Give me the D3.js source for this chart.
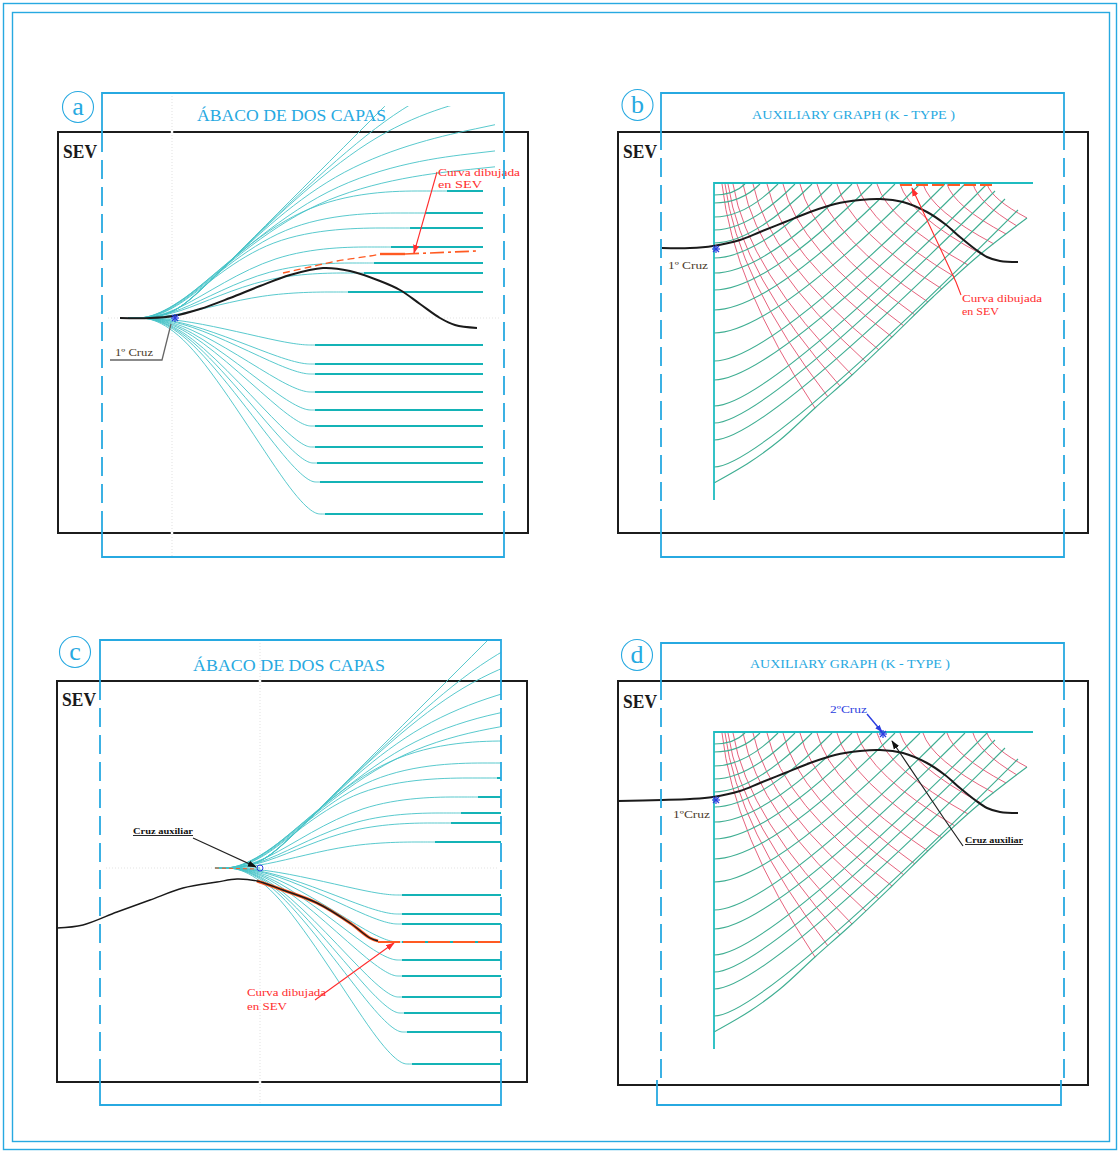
<!DOCTYPE html>
<html><head><meta charset="utf-8">
<script src="https://cdn.jsdelivr.net/npm/d3@7"></script>
<style>body{margin:0;background:#fff}svg{display:block}</style>
</head><body>
<svg id="c" width="1120" height="1153"></svg>
<script>
// ================= DATA =================
const panelLetters = ["a","b","c","d"];
const panelTitles = ["ÁBACO DE DOS CAPAS","AUXILIARY GRAPH (K - TYPE )","ÁBACO DE DOS CAPAS","AUXILIARY GRAPH (K - TYPE )"];

// Two-layer master curves (sheet units from the cross, y up)
const abacoStartX = -45, abacoEndX = 310;
const abacoUpLevel  = [26, 45, 55, 71, 90, 105, 127];
const abacoUpCorner = [90, 92, 95, 100, 92, 106, 125];
const abacoUpFlat   = [175, 191, 201, 218, 237, 252, 274];
const abacoUpOpen = [
  [[135,132],[330,152]],
  [[150,147],[330,168]],
  [[40,40],[165,160],[330,195]],
  [[40,40],[200,196],[330,225]],
  [[40,40],[225,222],[330,250]],
  [[40,40],[330,330]]
];
const abacoDownLevel  = [-27,-46,-56,-74,-92,-108,-129,-145,-164,-196];
const abacoDownCorner = [118,119,120,120,121,122,123,124,126,128];
const abacoDownFlat   = [142,142,142,142,142,142,142,144,147,152];

// Auxiliary graph (K-type), units from the grid corner, y down
const gridTealStart = [11,19,33,46,59,74,89,106,126,149,177,196,222,239,256,283];
const gridTealEnd = [[31,0],[46,0],[64,0],[81,0],[98,0],[118,0],[138,0],[158,0],[181,0],[206,0],[231,0],[251,0],[273,0],[281,7],[291,15],[304,26]];
const gridBottom = [[0,299],[36,278],[66,256],[101,224],[138,191],[178,153],[219,113],[263,73],[313,34]];
const gridRedStart = [8,11,14,19,29,39,53,69,86,103,123,143,163,186,209,233,259,273];
const gridRedEnd = [[101,224],[114,213],[126,202],[138,191],[152,178],[165,166],[178,153],[190,142],[201,131],[214,118],[228,105],[241,93],[254,81],[267,70],[280,60],[292,50],[303,42],[313,34]];

// SEV field curves (units from the SEV box top-left corner, y down)
const sevA = [[62,186],[92,186],[115,184],[142,177],[172,166],[202,154],[232,143],[265,136],[292,139],[322,149],[342,158],[362,172],[382,186],[397,193],[419,196]];
const sevB = [[44,116],[72,116],[95,114],[122,108],[142,100],[167,90],[192,80],[217,72],[242,68],[262,67],[285,70],[309,80],[327,92],[342,105],[357,117],[369,125],[382,129],[400,130]];
const sevC = [[0,247],[26,244],[60,231],[93,219],[126,207],[160,201],[180,198],[200,200],[226,209],[260,222],[293,242],[313,257],[321,260]];
const sevD = [[0,120],[44,119],[72,118],[95,116],[122,110],[142,102],[167,92],[192,82],[217,74],[242,70],[262,69],[285,72],[309,82],[327,94],[342,107],[357,119],[369,127],[382,131],[400,132]];
// "Curva dibujada en SEV" traces
const traceA = [[225,141],[252,135],[279,129],[312,124],[322,122]];
const traceAFlat = [[322,122],[347,122],[419,119]];
const traceC = [[200,200],[226,209],[260,222],[293,242],[313,257],[321,260]];
const traceCFlat = [[321,261],[443,261]];

// ================= LAYOUT =================
const SERIF = '"Liberation Serif","DejaVu Serif",serif';
const BLUE = "#27a9e1", TEAL = "#46c3c7", TEALF = "#14b3b6", GT = "#3fae92", GAX = "#1fbcc0", GR = "#e2526f", ORG = "#ff5a22", RED = "#ff2d2d";
const L = {
  a:{box:[58,132,528,533], br:{x0:102,x1:504,y0:93,y1:557,bx0:102,bx1:504,ts:152,bs:520}, circ:[78,107], title:[291.5,121,189,17.5], sev:[63,158], cross:[173,318], clip:[60,106,495,545], guide:172},
  b:{box:[618,132,1088,533], br:{x0:661,x1:1064,y0:93,y1:557,bx0:661,bx1:1064,ts:150,bs:520}, circ:[637.5,105], title:[853.5,119,203,12.5], sev:[623,158], grid:[714,184]},
  c:{box:[57,681,527,1082], br:{x0:100,x1:501,y0:640,y1:1105,bx0:100,bx1:501,ts:700,bs:1063}, circ:[75,652], title:[289,671,192,17.5], sev:[62,706], cross:[260,868], clip:[58,640,501,1080], guide:260},
  d:{box:[618,681,1088,1085], br:{x0:661,x1:1064,y0:643,y1:1105,bx0:657,bx1:1061,ts:700,bs:1080}, circ:[637,655], title:[850,668,200,12.5], sev:[623,708], grid:[714,733]}
};

const svg = d3.select("#c");
const defs = svg.append("defs");
function marker(id, color, size){
  defs.append("marker").attr("id",id).attr("viewBox","0 0 10 10").attr("refX",9).attr("refY",5)
    .attr("markerWidth",size).attr("markerHeight",size).attr("orient","auto").attr("markerUnits","userSpaceOnUse")
    .append("path").attr("d","M0,1.5L10,5L0,8.5z").attr("fill",color);
}
marker("mR", RED, 9); marker("mK", "#111", 9); marker("mB", "#2b3ee0", 8);

// outer frame
svg.append("rect").attr("x",3.5).attr("y",3.5).attr("width",1113).attr("height",1146).attr("fill","none").attr("stroke",BLUE).attr("stroke-width",1.4);
svg.append("rect").attr("x",12.5).attr("y",12.5).attr("width",1097).attr("height",1129).attr("fill","none").attr("stroke",BLUE).attr("stroke-width",1.4);

function boxScale(p){ const b=L[p].box;
  return {x:d3.scaleLinear().domain([0,100]).range([b[0],b[0]+100]), y:d3.scaleLinear().domain([0,100]).range([b[1],b[1]+100])}; }

function drawBox(p){ const b=L[p].box;
  svg.append("rect").attr("x",b[0]).attr("y",b[1]).attr("width",b[2]-b[0]).attr("height",b[3]-b[1])
    .attr("fill","none").attr("stroke","#1c1c1c").attr("stroke-width",2);
}
function drawGuides(p){ const c=L[p]; if(c.guide===undefined) return;
  const br=c.br;
  // white gaps through the frame lines
  [[c.box[1]],[c.box[3]],[br.y0],[br.y1]].forEach(v=>{
    svg.append("line").attr("x1",c.guide).attr("x2",c.guide).attr("y1",v[0]-3).attr("y2",v[0]+3).attr("stroke","#fff").attr("stroke-width",2.5);
  });
  svg.append("line").attr("x1",c.guide).attr("x2",c.guide).attr("y1",br.y0).attr("y2",br.y1)
    .attr("stroke","#d9d9d9").attr("stroke-width",0.8).attr("stroke-dasharray","1,2");
  svg.append("line").attr("x1",br.x0+6).attr("x2",br.x1-4).attr("y1",c.cross[1]).attr("y2",c.cross[1])
    .attr("stroke","#dcdcdc").attr("stroke-width",0.8).attr("stroke-dasharray","1,2");
}
function drawBracket(p){ const b=L[p].br; const g=svg.append("g").attr("fill","none").attr("stroke",BLUE).attr("stroke-width",1.8);
  g.append("path").attr("d",`M${b.x0},${b.ts}V${b.y0}H${b.x1}V${b.ts}`);
  g.append("path").attr("d",`M${b.bx0},${b.bs}V${b.y1}H${b.bx1}V${b.bs}`);
  const sideEnd = p==="d" ? 1086 : b.bs;
  [b.x0,b.x1].forEach(x=>g.append("line").attr("x1",x).attr("x2",x).attr("y1",b.ts+8).attr("y2",sideEnd).attr("stroke-dasharray","19,8"));
}
function drawLabels(p, i){ const c=L[p];
  svg.append("circle").attr("cx",c.circ[0]).attr("cy",c.circ[1]).attr("r",15.5).attr("fill","none").attr("stroke",BLUE).attr("stroke-width",1.1);
  svg.append("text").attr("x",c.circ[0]).attr("y",c.circ[1]+8).attr("text-anchor","middle").attr("font-family",SERIF)
    .attr("font-size",26).attr("fill",BLUE).text(panelLetters[i]);
  svg.append("text").attr("x",c.title[0]).attr("y",c.title[1]).attr("text-anchor","middle").attr("font-family",SERIF)
    .attr("font-size",c.title[3]).attr("fill",BLUE).attr("textLength",c.title[2]).attr("lengthAdjust","spacingAndGlyphs").text(panelTitles[i]);
  svg.append("text").attr("x",c.sev[0]).attr("y",c.sev[1]).attr("font-family",SERIF).attr("font-weight","bold")
    .attr("font-size",18).attr("fill","#1a1a1a").attr("textLength",34).attr("lengthAdjust","spacingAndGlyphs").text("SEV");
}

function drawAbaco(p){ const c=L[p]; const ox=c.cross[0], oy=c.cross[1];
  const x=d3.scaleLinear().domain([0,100]).range([ox,ox+100]);
  const y=d3.scaleLinear().domain([0,100]).range([oy,oy-100]);
  const spl=d3.line().x(d=>x(d[0])).y(d=>y(d[1])).curve(d3.curveBasis);
  const lin=d3.line().x(d=>x(d[0])).y(d=>y(d[1]));
  const cid="clip"+p;
  defs.append("clipPath").attr("id",cid).append("rect").attr("x",c.clip[0]).attr("y",c.clip[1]).attr("width",c.clip[2]-c.clip[0]).attr("height",c.clip[3]-c.clip[1]);
  const g=svg.append("g").attr("clip-path",`url(#${cid})`).attr("fill","none");
  const A=[abacoStartX,0];
  abacoUpLevel.forEach((lv,i)=>{
    g.append("path").attr("d",spl([A,A,[0,0],[abacoUpCorner[i],lv],[abacoUpFlat[i],lv],[abacoUpFlat[i],lv]])).attr("stroke",TEAL).attr("stroke-width",0.9);
    g.append("path").attr("d",lin([[abacoUpFlat[i],lv],[abacoEndX,lv]])).attr("stroke",TEALF).attr("stroke-width",1.8);
  });
  abacoUpOpen.forEach(pts=>{
    g.append("path").attr("d",spl([A,A,[0,0],...pts])).attr("stroke",TEAL).attr("stroke-width",0.9);
  });
  abacoDownLevel.forEach((lv,i)=>{
    g.append("path").attr("d",spl([A,A,[10,0],[abacoDownCorner[i],lv],[abacoDownFlat[i],lv],[abacoDownFlat[i],lv]])).attr("stroke",TEAL).attr("stroke-width",0.9);
    g.append("path").attr("d",lin([[abacoDownFlat[i],lv],[abacoEndX,lv]])).attr("stroke",TEALF).attr("stroke-width",1.8);
  });
  g.append("path").attr("d",lin([A,[0,0]])).attr("stroke",TEAL).attr("stroke-width",1.2);
}

function drawGrid(p){ const c=L[p]; const ox=c.grid[0], oy=c.grid[1];
  const x=d3.scaleLinear().domain([0,100]).range([ox,ox+100]);
  const y=d3.scaleLinear().domain([0,100]).range([oy,oy+100]);
  const g=svg.append("g").attr("fill","none");
  gridRedStart.forEach((xs,i)=>{ const e=gridRedEnd[i];
    const q=[xs+0.12*(e[0]-xs), 0.45*e[1]];
    const pa=d3.path(); pa.moveTo(x(xs),y(0)); pa.quadraticCurveTo(x(q[0]),y(q[1]),x(e[0]),y(e[1]));
    g.append("path").attr("d",pa.toString()).attr("stroke",GR).attr("stroke-width",1).attr("stroke-opacity",0.9);
  });
  gridTealStart.forEach((ys,i)=>{ const e=gridTealEnd[i];
    const q=[e[0]-(ys-e[1]), ys];
    const pa=d3.path(); pa.moveTo(x(0),y(ys)); pa.quadraticCurveTo(x(q[0]),y(q[1]),x(e[0]),y(e[1]));
    g.append("path").attr("d",pa.toString()).attr("stroke",GT).attr("stroke-width",1.1);
  });
  g.append("path").attr("d",d3.line().x(d=>x(d[0])).y(d=>y(d[1])).curve(d3.curveCatmullRom)(gridBottom)).attr("stroke",GT).attr("stroke-width",1.1);
  g.append("path").attr("d",d3.line().x(d=>x(d[0])).y(d=>y(d[1]))([[0,316],[0,-1],[319,-1]])).attr("stroke",GAX).attr("stroke-width",1.8);
}

function crossMark(xp,yp,color){
  const g=svg.append("g").attr("stroke",color).attr("stroke-width",1.2);
  g.append("line").attr("x1",xp-4).attr("x2",xp+4).attr("y1",yp).attr("y2",yp);
  g.append("line").attr("x1",xp).attr("x2",xp).attr("y1",yp-4).attr("y2",yp+4);
  g.append("line").attr("x1",xp-3).attr("x2",xp+3).attr("y1",yp-3).attr("y2",yp+3);
  g.append("line").attr("x1",xp-3).attr("x2",xp+3).attr("y1",yp+3).attr("y2",yp-3);
}
function txt(xp,yp,s,o){ const t=svg.append("text").attr("x",xp).attr("y",yp).attr("font-family",SERIF)
    .attr("font-size",o.size||10.5).attr("fill",o.fill||"#333").text(s);
  if(o.w) t.attr("textLength",o.w).attr("lengthAdjust","spacingAndGlyphs");
  if(o.bold) t.attr("font-weight","bold");
  if(o.u) t.attr("text-decoration","underline");
  return t; }

// ================= DRAW =================
["a","b","c","d"].forEach((p,i)=>{ drawBox(p); drawGuides(p); });
drawAbaco("a"); drawAbaco("c");
drawGrid("b"); drawGrid("d");

// SEV curves + traces
const sevLine = (p)=>{ const s=boxScale(p); return d3.line().x(d=>s.x(d[0])).y(d=>s.y(d[1])); };
// panel a
{ const s=boxScale("a"), ln=sevLine("a");
  svg.append("path").attr("d",ln.curve(d3.curveCatmullRom)(sevA)).attr("fill","none").attr("stroke","#1a1a1a").attr("stroke-width",2);
  svg.append("path").attr("d",sevLine("a").curve(d3.curveCatmullRom)(traceA)).attr("fill","none").attr("stroke",ORG).attr("stroke-width",1.3).attr("stroke-dasharray","7,4");
  svg.append("path").attr("d",sevLine("a")(traceAFlat.slice(0,2))).attr("fill","none").attr("stroke",ORG).attr("stroke-width",2.4);
  svg.append("path").attr("d",sevLine("a")(traceAFlat.slice(1))).attr("fill","none").attr("stroke",ORG).attr("stroke-width",1.6).attr("stroke-dasharray","14,4,3,4");
  svg.append("path").attr("d",sevLine("a")([[379,40],[356,121]])).attr("fill","none").attr("stroke",RED).attr("stroke-width",1.1).attr("marker-end","url(#mR)");
  txt(s.x(380),s.y(44),"Curva dibujada",{fill:RED,size:11,w:82});
  txt(s.x(380),s.y(56),"en  SEV",{fill:RED,size:11,w:44});
  crossMark(s.x(117),s.y(186),"#2b3ee0");
  svg.append("path").attr("d",sevLine("a")([[52,228],[104,228],[113,192]])).attr("fill","none").attr("stroke","#666").attr("stroke-width",1.3);
  txt(s.x(57),s.y(224),"1º Cruz",{size:10.5,w:38,fill:"#4a3a2a"});
}
// panel b
{ const s=boxScale("b");
  svg.append("path").attr("d",sevLine("b").curve(d3.curveCatmullRom)(sevB)).attr("fill","none").attr("stroke","#1a1a1a").attr("stroke-width",2);
  svg.append("path").attr("d",sevLine("b")([[282,53],[375,53]])).attr("fill","none").attr("stroke",ORG).attr("stroke-width",2).attr("stroke-dasharray","12,4");
  svg.append("path").attr("d",sevLine("b")([[343,163],[338,150],[294,56]])).attr("fill","none").attr("stroke",RED).attr("stroke-width",1.1).attr("marker-end","url(#mR)");
  txt(s.x(344),s.y(170),"Curva dibujada",{fill:RED,size:11,w:80});
  txt(s.x(344),s.y(183),"en SEV",{fill:RED,size:11,w:37});
  crossMark(s.x(98),s.y(117),"#2b3ee0");
  txt(s.x(50),s.y(137),"1º Cruz",{size:10.5,w:40,fill:"#4a3a2a"});
}
// panel c
{ const s=boxScale("c");
  svg.append("path").attr("d",sevLine("c").curve(d3.curveCatmullRom)(traceC)).attr("fill","none").attr("stroke",ORG).attr("stroke-width",3);
  svg.append("path").attr("d",sevLine("c").curve(d3.curveCatmullRom)(sevC)).attr("fill","none").attr("stroke","#1a1a1a").attr("stroke-width",1.4);
  svg.append("path").attr("d",sevLine("c")(traceCFlat)).attr("fill","none").attr("stroke",ORG).attr("stroke-width",2.2).attr("stroke-dasharray","22,3");
  svg.append("path").attr("d",sevLine("c")([[158,187],[200,188]])).attr("fill","none").attr("stroke",ORG).attr("stroke-width",1).attr("stroke-dasharray","4,3");
  svg.append("path").attr("d",sevLine("c")([[258,319],[337,262]])).attr("fill","none").attr("stroke",RED).attr("stroke-width",1.1).attr("marker-end","url(#mR)");
  txt(s.x(190),s.y(315),"Curva dibujada",{fill:RED,size:11,w:79});
  txt(s.x(190),s.y(329),"en   SEV",{fill:RED,size:11,w:40});
  svg.append("circle").attr("cx",s.x(203)).attr("cy",s.y(187)).attr("r",3).attr("fill","none").attr("stroke","#2b3ee0").attr("stroke-width",1);
  svg.append("path").attr("d",sevLine("c")([[136,157],[199,186]])).attr("fill","none").attr("stroke","#222").attr("stroke-width",1.2).attr("marker-end","url(#mK)");
  txt(s.x(76),s.y(153),"Cruz auxiliar",{size:9,bold:true,u:true,w:60,fill:"#111"});
}
// panel d
{ const s=boxScale("d");
  svg.append("path").attr("d",sevLine("d").curve(d3.curveCatmullRom)(sevD)).attr("fill","none").attr("stroke","#1a1a1a").attr("stroke-width",2);
  crossMark(s.x(98),s.y(119),"#2b3ee0");
  txt(s.x(55),s.y(137),"1ºCruz",{size:10.5,w:37,fill:"#4a3a2a"});
  svg.append("path").attr("d",sevLine("d")([[249,33],[264,51]])).attr("fill","none").attr("stroke","#2b3ee0").attr("stroke-width",1.4).attr("marker-end","url(#mB)");
  crossMark(s.x(265),s.y(53),"#2b3ee0");
  txt(s.x(212),s.y(32),"2ºCruz",{size:10.5,w:37,fill:"#2b3ee0"});
  svg.append("path").attr("d",sevLine("d")([[345,165],[327,139],[274,60]])).attr("fill","none").attr("stroke","#222").attr("stroke-width",1.2).attr("marker-end","url(#mK)");
  txt(s.x(347),s.y(162),"Cruz auxiliar",{size:9,bold:true,u:true,w:58,fill:"#111"});
}

["a","b","c","d"].forEach((p,i)=>{ drawBracket(p); drawLabels(p,i); });
</script>
</body></html>
